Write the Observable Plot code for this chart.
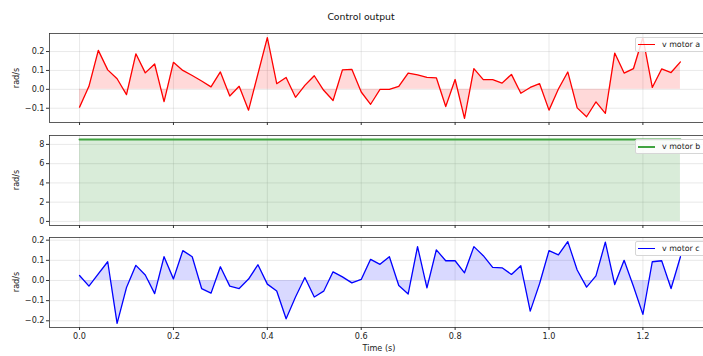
<!DOCTYPE html>
<html>
<head>
<meta charset="utf-8">
<script src="https://cdn.jsdelivr.net/npm/d3@7"></script>
<script src="https://cdn.jsdelivr.net/npm/@observablehq/plot@0.6"></script>
<style>
  body { margin: 0; background: #fff; }
  #wrap { position: relative; width: 703px; height: 356px; overflow: hidden; font-family: "DejaVu Sans", sans-serif; color: #222; }
  .panel { position: absolute; left: 0; }
  .title { position: absolute; top: 11px; left: 0; width: 722px; text-align: center; font-size: 9.3px; color: #111; white-space: nowrap; }
  .ylab { position: absolute; left: 16px; font-size: 8.1px; transform: translate(-50%, -50%) rotate(-90deg); white-space: nowrap; color: #222; }
  .xlab { position: absolute; top: 343px; left: 379px; transform: translateX(-50%); font-size: 8.1px; color: #222; white-space: nowrap; }
  .legend { position: absolute; left: 635px; height: 15px; width: 80px; background: rgba(255,255,255,0.85); border: 1px solid #d6d6d6; border-radius: 2px; font-size: 7.9px; display: flex; align-items: center; color: #222; white-space: nowrap; box-sizing: border-box; }
  .legend .sw { width: 17px; height: 0; margin-left: 2px; margin-right: 7px; flex: none; }
</style>
</head>
<body>
<div id="wrap">
  <div class="title">Control output</div>
</div>
<script>
// Time (s), step 0.02 from 0 to 1.28
const time = d3.range(65).map(i => +(i * 0.02).toFixed(2));

const motorA = [-0.094, 0.016, 0.206, 0.103, 0.056, -0.028, 0.188, 0.087, 0.134, -0.065,
  0.143, 0.100, 0.073, 0.044, 0.013, 0.092, -0.035, 0.016, -0.110, 0.082,
  0.274, 0.030, 0.063, -0.042, 0.021, 0.072, -0.005, -0.059, 0.103, 0.106,
  -0.014, -0.079, 0.000, 0.000, 0.016, 0.086, 0.077, 0.063, 0.061, -0.091,
  0.052, -0.154, 0.110, 0.051, 0.051, 0.033, 0.079, -0.021, 0.010, 0.030,
  -0.110, 0.002, 0.092, -0.098, -0.145, -0.066, -0.127, 0.192, 0.086, 0.110,
  0.274, 0.010, 0.108, 0.089, 0.145];

const motorB = time.map(() => 8.5);

const motorC = [0.025, -0.028, 0.033, 0.093, -0.213, -0.035, 0.075, 0.027, -0.065, 0.118,
  0.008, 0.148, 0.118, -0.040, -0.063, 0.068, -0.028, -0.040, 0.007, 0.078,
  -0.018, -0.052, -0.190, -0.082, 0.015, -0.082, -0.053, 0.043, 0.018, -0.012,
  0.005, 0.105, 0.080, 0.118, -0.025, -0.067, 0.168, -0.037, 0.152, 0.098,
  0.098, 0.038, 0.168, 0.123, 0.065, 0.063, 0.030, 0.073, -0.152, -0.015,
  0.148, 0.127, 0.193, 0.052, -0.033, 0.023, 0.190, -0.020, 0.100, -0.030,
  -0.168, 0.093, 0.098, -0.040, 0.118];

const xTicks = [0, 0.2, 0.4, 0.6, 0.8, 1.0, 1.2];
const yTicksA = [-0.1, 0, 0.1, 0.2];
const yTicksB = [0, 2, 4, 6, 8];
const yTicksC = [-0.2, -0.1, 0, 0.1, 0.2];

const seriesNames = ["v motor a", "v motor b", "v motor c"];
const lineColors = ["#ff0000", "#3fa33f", "#0000ff"];
const fillColors = ["#ff0000", "#008000", "#0000ff"];

const wrap = document.getElementById("wrap");
const fmt1 = d3.format(".1f");

function padDomain(vals) {
  const lo = Math.min(0, d3.min(vals)), hi = Math.max(0, d3.max(vals));
  const m = (hi - lo) * 0.05;
  return [lo - m, hi + m];
}
const xExt = d3.extent(time);
const xPad = (xExt[1] - xExt[0]) * 0.05;
const xDomain = [xExt[0] - xPad, xExt[1] + xPad];

function panel(idx, vals, yTicks, yFmt, top, height, mBottom, showX) {
  const data = time.map((t, i) => ({t, v: vals[i]}));
  const yDomain = padDomain(vals);
  const p = Plot.plot({
    width: 703,
    height,
    marginLeft: 49,
    marginRight: -7,
    marginTop: 5,
    marginBottom: mBottom,
    style: {fontFamily: "DejaVu Sans, sans-serif", fontSize: "8.1px", color: "#222", background: "transparent"},
    x: {domain: xDomain, label: null},
    y: {domain: yDomain, label: null},
    marks: [
      Plot.gridX(xTicks, {stroke: "#b0b0b0", strokeOpacity: 0.35, strokeWidth: 0.8}),
      Plot.gridY(yTicks, {stroke: "#b0b0b0", strokeOpacity: 0.35, strokeWidth: 0.8}),
      Plot.areaY(data, {x: "t", y1: 0, y2: "v", fill: fillColors[idx], fillOpacity: 0.15}),
      Plot.line(data, {x: "t", y: "v", stroke: lineColors[idx], strokeWidth: idx === 1 ? 2 : 1.3}),
      Plot.axisY({ticks: yTicks, tickFormat: yFmt, tickSize: 3, tickPadding: 2, stroke: "#333", label: null}),
      Plot.axisX({ticks: xTicks, tickFormat: showX ? fmt1 : () => "", tickSize: 3, tickPadding: 3, stroke: "#333", label: null}),
      Plot.frame({stroke: "#333", strokeWidth: 0.8})
    ]
  });
  p.classList.add("panel");
  p.style.top = top + "px";
  wrap.appendChild(p);

  const yl = document.createElement("div");
  yl.className = "ylab";
  yl.textContent = "rad/s";
  yl.style.top = (top + 5 + (height - 5 - mBottom) / 2) + "px";
  wrap.appendChild(yl);

  const lg = document.createElement("div");
  lg.className = "legend";
  lg.style.top = (top + 9) + "px";
  const sw = document.createElement("span");
  sw.className = "sw";
  sw.style.borderTop = (idx === 1 ? 2 : 1.5) + "px solid " + lineColors[idx];
  const tx = document.createElement("span");
  tx.textContent = seriesNames[idx];
  lg.appendChild(sw); lg.appendChild(tx);
  wrap.appendChild(lg);
}

panel(0, motorA, yTicksA, fmt1, 28, 100, 6, false);
panel(1, motorB, yTicksB, d3.format("d"), 130, 100, 5, false);
panel(2, motorC, yTicksC, fmt1, 232, 124, 29, true);

const xl = document.createElement("div");
xl.className = "xlab";
xl.textContent = "Time (s)";
wrap.appendChild(xl);
</script>
</body>
</html>
